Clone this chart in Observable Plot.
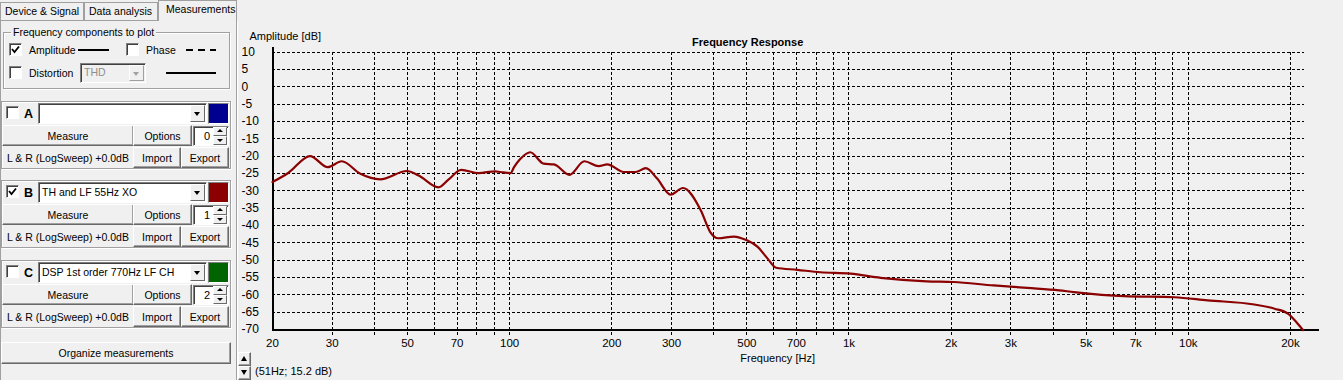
<!DOCTYPE html>
<html><head><meta charset="utf-8">
<script src="https://cdn.jsdelivr.net/npm/d3@7"></script>
<script src="https://cdn.jsdelivr.net/npm/@observablehq/plot@0.6"></script>
<style>
body{margin:0;background:#f0f0f0;width:1343px;height:380px;overflow:hidden;font-family:"Liberation Sans",Arial,sans-serif;font-size:10.5px;color:#000;}
#root{position:relative;width:1343px;height:380px;}
.a{position:absolute;box-sizing:border-box;}
.t{position:absolute;white-space:nowrap;line-height:12px;}
.btn{position:absolute;box-sizing:border-box;background:#f0f0f0;border:1px solid;border-color:#fff #696969 #696969 #fff;box-shadow:inset -1px -1px 0 #a0a0a0;display:flex;align-items:center;justify-content:center;white-space:nowrap;}
.chk{position:absolute;box-sizing:border-box;width:13px;height:13px;background:#fff;border:1px solid;border-color:#808080 #fff #fff #808080;box-shadow:inset 1px 1px 0 #404040;}
.chk svg{position:absolute;left:1px;top:1px;}
.combo{position:absolute;box-sizing:border-box;background:#fff;border:1px solid;border-color:#808080 #fff #fff #808080;box-shadow:inset 1px 1px 0 #404040;white-space:nowrap;padding-left:3px;line-height:19px;}
.dd{position:absolute;box-sizing:border-box;right:1px;top:1px;bottom:1px;width:15px;background:#f0f0f0;border:1px solid;border-color:#fff #696969 #696969 #fff;}
.tri{position:absolute;left:3px;top:6px;width:0;height:0;border-left:3.5px solid transparent;border-right:3.5px solid transparent;border-top:4px solid #000;}
.triu{position:absolute;left:3px;top:1px;width:0;height:0;border-left:3px solid transparent;border-right:3px solid transparent;border-bottom:3px solid #000;}
.trid{position:absolute;left:3px;top:2px;width:0;height:0;border-left:3px solid transparent;border-right:3px solid transparent;border-top:3px solid #000;}
.grp{position:absolute;box-sizing:border-box;border:1px solid #a0a0a0;box-shadow:1px 1px 0 #fff, inset 1px 1px 0 #fff;}
.tab{position:absolute;box-sizing:border-box;border:1px solid #a0a0a0;border-bottom:none;background:#f0f0f0;white-space:nowrap;padding-left:4px;}
.sw{position:absolute;box-sizing:border-box;border:1px solid;border-color:#808080 #fff #fff #808080;}
.spin{position:absolute;box-sizing:border-box;background:#fff;border:1px solid;border-color:#808080 #fff #fff #808080;box-shadow:inset 1px 1px 0 #404040;}
.sb{position:absolute;box-sizing:border-box;width:14px;height:9px;background:#f0f0f0;border:1px solid;border-color:#fff #696969 #696969 #fff;}
#chart{position:absolute;left:238px;top:20px;}
</style></head>
<body><div id="root">
<!-- tabs -->
<div class="a" style="left:0;top:20px;width:237px;height:1px;background:#a0a0a0"></div>
<div class="a" style="left:0;top:20px;width:1px;height:360px;background:#a0a0a0"></div>
<div class="tab" style="left:0;top:2px;width:84px;height:18px;line-height:17px;">Device &amp; Signal</div>
<div class="tab" style="left:84px;top:2px;width:74px;height:18px;line-height:17px;">Data analysis</div>
<div class="tab" style="left:158px;top:0;width:79px;height:21px;line-height:16px;padding-left:7px;border-color:#a0a0a0;">Measurements</div>
<!-- chart panel border -->
<div class="a" style="left:236px;top:21px;width:1px;height:359px;background:#a0a0a0"></div>
<div class="a" style="left:237px;top:21px;width:1px;height:359px;background:#fff"></div>

<!-- frequency components group -->
<div class="grp" style="left:3px;top:32px;width:227px;height:57px;"></div>
<div class="t" style="left:11px;top:26px;background:#f0f0f0;padding:0 2px;">Frequency components to plot</div>
<div class="chk" style="left:9px;top:43px;"><svg width="9" height="9"><path d="M1 4 L3.5 7 L8 1.5" stroke="#000" stroke-width="1.8" fill="none"/></svg></div>
<div class="t" style="left:29px;top:44px;">Amplitude</div>
<div class="a" style="left:78px;top:49px;width:31px;height:2px;background:#000"></div>
<div class="chk" style="left:126px;top:43px;"></div>
<div class="t" style="left:146px;top:44px;">Phase</div>
<div class="a" style="left:186px;top:49px;width:7px;height:2px;background:#000"></div>
<div class="a" style="left:198px;top:49px;width:7px;height:2px;background:#000"></div>
<div class="a" style="left:210px;top:49px;width:6px;height:2px;background:#000"></div>
<div class="chk" style="left:9px;top:66px;"></div>
<div class="t" style="left:29px;top:67px;">Distortion</div>
<div class="combo" style="left:80px;top:63px;width:66px;height:20px;background:#f0f0f0;color:#8d8d8d;line-height:17px;">THD<div class="dd" style="border-color:#fff #a0a0a0 #a0a0a0 #fff"><div class="tri" style="border-top-color:#a0a0a0"></div></div></div>
<div class="a" style="left:166px;top:72px;width:50px;height:2px;background:#000"></div>

<div id="groups"></div>

<div class="btn" style="left:1px;top:342px;width:230px;height:22px;">Organize measurements</div>

<!-- bottom arrows -->
<div class="btn" style="left:238px;top:352px;width:13px;height:14px;"><div class="triu" style="left:2px;top:3px;border-left-width:3.5px;border-right-width:3.5px;border-bottom-width:5px;"></div></div>
<div class="btn" style="left:238px;top:366px;width:13px;height:14px;"><div class="trid" style="left:2px;top:3px;border-left-width:3.5px;border-right-width:3.5px;border-top-width:5px;"></div></div>
<div class="t" style="left:255px;top:365px;font-size:11px;">(51Hz; 15.2 dB)</div>

<div id="chart"></div>
</div>
<script>
// ---- measurement slots (UI) ----
const slotLetters = ["A", "B", "C"];
const slotNames = ["", "TH and LF 55Hz XO", "DSP 1st order 770Hz LF CH"];
const slotColors = ["#000090", "#8b0000", "#006400"];
const slotChecked = [false, true, false];
const slotTops = [101, 180, 260];
const slotIndex = ["0", "1", "2"];

const groupsEl = document.getElementById("groups");
slotLetters.forEach((L, i) => {
  const T = slotTops[i];
  const check = slotChecked[i] ? '<svg width="9" height="9"><path d="M1 4 L3.5 7 L8 1.5" stroke="#000" stroke-width="1.8" fill="none"/></svg>' : '';
  groupsEl.insertAdjacentHTML("beforeend", `
  <div class="grp" style="left:1px;top:${T}px;width:230px;height:68px;"></div>
  <div class="chk" style="left:6px;top:${T+5}px;">${check}</div>
  <div class="t" style="left:24px;top:${T+7}px;font-weight:bold;font-size:12.5px;">${L}</div>
  <div class="combo" style="left:38px;top:${T+2}px;width:169px;height:21px;">${slotNames[i]}<div class="dd"><div class="tri"></div></div></div>
  <div class="sw" style="left:208px;top:${T+2}px;width:21px;height:21px;background:${slotColors[i]}"></div>
  <div class="btn" style="left:2px;top:${T+24}px;width:132px;height:21px;">Measure</div>
  <div class="btn" style="left:133px;top:${T+24}px;width:59px;height:21px;">Options</div>
  <div class="spin" style="left:193px;top:${T+25}px;width:36px;height:20px;"><div class="t" style="right:18px;top:3px;font-size:11px;">${slotIndex[i]}</div>
    <div class="sb" style="left:19px;top:0px;"><div class="triu"></div></div>
    <div class="sb" style="left:19px;top:9px;"><div class="trid"></div></div></div>
  <div class="t" style="left:7px;top:${T+51}px;">L &amp; R (LogSweep) +0.0dB</div>
  <div class="btn" style="left:133px;top:${T+46}px;width:48px;height:21px;">Import</div>
  <div class="btn" style="left:181px;top:${T+46}px;width:48px;height:21px;">Export</div>
  `);
});

// ---- chart data ----
const freq = [20, 22.3, 25.8, 29.1, 32, 36.3, 41.5, 49.8, 53.9, 61.7, 66, 72, 81, 90.6, 94, 100.6, 103, 107.6, 115, 126, 135, 150, 166, 183, 194, 217, 235, 252, 272, 298, 324, 366, 390, 412, 458, 500, 537, 575, 610, 704, 824, 1010, 1240, 1694, 2032, 2670, 3356, 4160, 4600, 6470, 9100, 11400, 15660, 17960, 19660, 20840, 21800];
const amplitude = [-27.5, -24.8, -20.0, -23.2, -21.5, -25.1, -26.7, -24.3, -25.6, -29.0, -26.8, -24.0, -24.9, -24.4, -24.6, -24.9, -23.2, -20.8, -18.9, -22.2, -22.4, -25.4, -21.5, -22.9, -22.4, -24.6, -24.6, -23.5, -26.5, -31.1, -29.2, -35.7, -41.9, -43.7, -43.2, -44.3, -46.1, -49.5, -52.2, -52.8, -53.5, -53.9, -55.1, -56.1, -56.3, -57.3, -58.0, -58.7, -59.2, -60.4, -60.7, -61.6, -62.8, -64.0, -65.4, -67.9, -70.2];

const gridFreqs = [30, 40, 50, 60, 70, 80, 90, 100, 200, 300, 400, 500, 600, 700, 800, 900, 1000, 2000, 3000, 4000, 5000, 6000, 7000, 8000, 9000, 10000, 20000];
const gridDb = [10, 5, 0, -5, -10, -15, -20, -25, -30, -35, -40, -45, -50, -55, -60, -65];
const yTickValues = [10, 5, 0, -5, -10, -15, -20, -25, -30, -35, -40, -45, -50, -55, -60, -65, -70];
const xTickValues = [20, 30, 50, 70, 100, 200, 300, 500, 700, 1000, 2000, 3000, 5000, 7000, 10000, 20000];
const xTickLabels = ["20", "30", "50", "70", "100", "200", "300", "500", "700", "1k", "2k", "3k", "5k", "7k", "10k", "20k"];

const data = freq.map((f, i) => ({f, db: amplitude[i]}));
const xTicks = xTickValues.map((v, i) => ({v, label: xTickLabels[i]}));

const chart = Plot.plot({
  width: 1105,
  height: 360,
  marginLeft: 34,
  marginTop: 31.5,
  marginBottom: 51,
  marginRight: 38.7,
  x: {type: "log", domain: [20, 22050], axis: null},
  y: {domain: [-70, 10], axis: null},
  style: {background: "transparent", fontFamily: "'Liberation Sans', Arial, sans-serif", fontSize: "11px", overflow: "visible"},
  marks: [
    Plot.ruleY(gridDb, {x1: 20, x2: 22050, stroke: "#000", strokeWidth: 1, strokeDasharray: "3,2"}),
    Plot.ruleX(gridFreqs, {y1: 10, y2: -72, stroke: "#000", strokeWidth: 1, strokeDasharray: "3,2"}),
    Plot.ruleX([20], {y1: 11.4, y2: -70, stroke: "#000", strokeWidth: 2}),
    Plot.ruleY([-70], {x1: 20, x2: 24300, stroke: "#000", strokeWidth: 2}),
    Plot.line(data, {x: "f", y: "db", stroke: "#8b0000", strokeWidth: 2.2, curve: "monotone-x"}),
    Plot.text(yTickValues, {x: 20, y: d => d, text: d => String(d), textAnchor: "start", dx: -31, fill: "#000", fontSize: 12}),
    Plot.text(xTicks, {x: "v", y: -70, text: "label", dy: 14, fill: "#000", fontSize: 11.5}),
    Plot.text(["Frequency Response"], {frameAnchor: "top", dx: -41, dy: -13.5, fontWeight: "bold", fill: "#000"}),
    Plot.text(["Frequency [Hz]"], {frameAnchor: "bottom", dx: -11, dy: 32, fill: "#000"}),
    Plot.text(["Amplitude [dB]"], {frameAnchor: "top-left", dx: -23, dy: -19.5, textAnchor: "start", fill: "#000"})
  ]
});
chart.querySelectorAll('g[aria-label="rule"]').forEach(g => g.setAttribute("shape-rendering", "crispEdges"));
document.getElementById("chart").appendChild(chart);
</script>
</body></html>
